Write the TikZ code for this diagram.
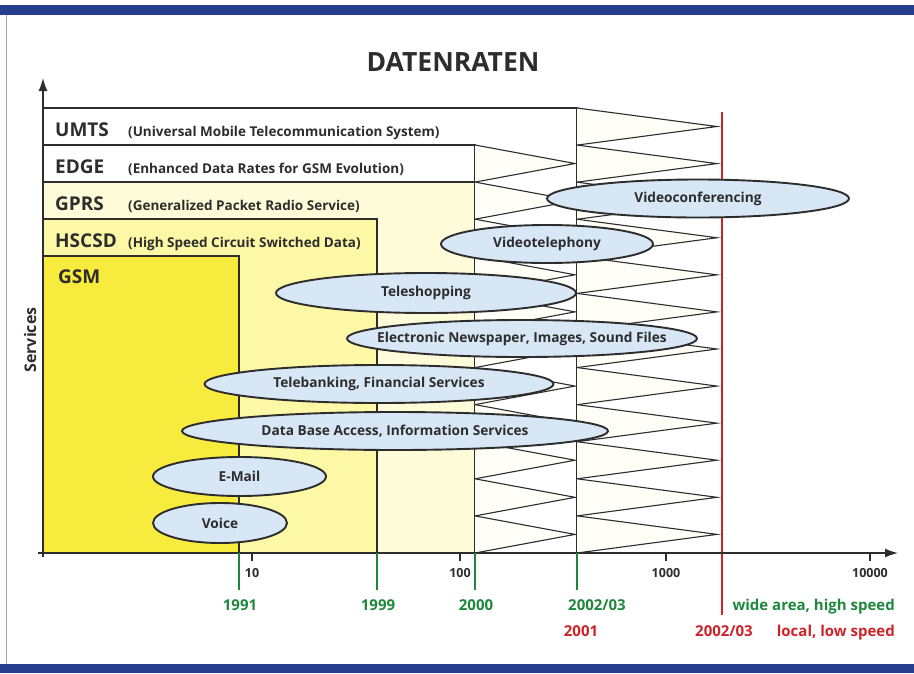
\documentclass[tikz,border=0pt]{standalone}
\usepackage{fontspec}
\setmainfont{Open Sans}
\usepackage{tikz}
\usetikzlibrary{shapes.geometric,arrows.meta}

\definecolor{barblue}{RGB}{38,62,140}
\definecolor{gsmyellow}{RGB}{247,236,62}
\definecolor{hscsdyellow}{RGB}{252,248,165}
\definecolor{gprsyellow}{RGB}{254,252,216}
\definecolor{toothcream}{RGB}{255,254,247}
\definecolor{servblue}{RGB}{216,231,245}
\definecolor{yeargreen}{RGB}{30,135,60}
\definecolor{yearred}{RGB}{205,35,40}
\definecolor{inkgray}{RGB}{45,45,45}

\tikzset{
	band/.style={
		draw=inkgray,
		line width=1.1pt
	},
	tooth/.style={
		draw=inkgray,
		fill=toothcream,
		line width=1.1pt
	},
	service/.style={
		ellipse,
		draw=inkgray,
		fill=servblue,
		line width=1.9pt,
		inner xsep=-80pt,
		inner ysep=0pt,
		text=inkgray,
		font=\fontsize{13.7}{16}\selectfont\bfseries
	},
	axisline/.style={
		-{Latex[length=13pt,width=9pt]},
		draw=inkgray,
		line width=1.4pt
	},
	rowname/.style={
		anchor=base west,
		inner sep=0,
		text=inkgray,
		font=\fontsize{19}{21}\selectfont\bfseries
	},
	rowlong/.style={
		anchor=base west,
		inner sep=0,
		text=inkgray,
		font=\fontsize{13.5}{15}\selectfont\bfseries
	}
}

\begin{document}
\begin{tikzpicture}[x=1pt, y=-1pt]

	\useasboundingbox (0,0) rectangle (914,673);

	%% Frame
	\fill[barblue] (0,5) rectangle (914,15);
	\fill[barblue] (0,664) rectangle (914,673);
	\draw[gray!70, line width=1pt] (6,15) -- (6,664);

	\node[text=inkgray, font=\fontsize{26.5}{29}\selectfont\bfseries] (title) at (453,62) {DATENRATEN};

	%% Technologies
	\draw[band, fill=white] (43,108) rectangle (577,553);
	\draw[band, fill=white] (43,145) rectangle (475,553);
	\draw[band, fill=gprsyellow] (43,182) rectangle (475,553);
	\draw[band, fill=hscsdyellow] (43,219) rectangle (377,553);
	\draw[band, fill=gsmyellow] (43,256) rectangle (239,553);

	%% Zigzags
	\foreach \i in {0,...,10} {
		\draw[tooth] (475,{145+37.09*\i}) -- (575,{163.5+37.09*\i}) -- (475,{182.1+37.09*\i});
	}
	\foreach \i in {0,...,11} {
		\draw[tooth] (577,{108+37.08*\i}) -- (717,{126.5+37.08*\i}) -- (577,{145.1+37.08*\i});
	}

	% Row labels
	\node[rowname] (umts) at (55,136) {UMTS};
	\node[rowlong] (umtslong) at (128,136) {(Universal Mobile Telecommunication System)};
	\node[rowname] (edge) at (55,173) {EDGE};
	\node[rowlong] (edgelong) at (128,173) {(Enhanced Data Rates for GSM Evolution)};
	\node[rowname] (gprs) at (55,210) {GPRS};
	\node[rowlong] (gprslong) at (128,210) {(Generalized Packet Radio Service)};
	\node[rowname] (hscsd) at (55,247) {HSCSD};
	\node[rowlong] (hscsdlong) at (128,247) {(High Speed Circuit Switched Data)};
	\node[rowname] (gsm) at (58,283) {GSM};

	\node[rotate=90, text=inkgray, font=\fontsize{16}{18}\selectfont\bfseries] (services) at (30,340) {Services};

	%% Red line
	\draw[yearred, line width=1.3pt] (722,112) -- (722,615);

	%% Axes
	\draw[axisline] (43,557) -- (43,78);
	\draw[axisline] (38,553) -- (898,553);

	% Column labels
	\foreach \x/\t in {252/10, 460/100, 666/1000, 870/10000} {
		\draw[inkgray, line width=1.2pt] (\x,553) -- (\x,561);
		\node[text=inkgray, font=\fontsize{12.5}{14}\selectfont\bfseries] (tick\t) at (\x,573) {\t};
	}

	% Years
	\foreach \x in {239,377,475,577} {
		\draw[yeargreen, line width=1.2pt] (\x,553) -- (\x,590);
	}
	\begin{scope}[
		year/.style={anchor=base, inner sep=0, font=\fontsize{15}{17}\selectfont\bfseries}
	]
		\node[year, text=yeargreen] (y1991) at (240,610) {1991};
		\node[year, text=yeargreen] (y1999) at (378,610) {1999};
		\node[year, text=yeargreen] (y2000) at (476,610) {2000};
		\node[year, text=yeargreen] (y2002) at (597,610) {2002/03};
		\node[year, text=yeargreen, anchor=base east] (wide) at (895,610) {wide area, high speed};
		\node[year, text=yearred] (y2001) at (581,636) {2001};
		\node[year, text=yearred] (y2002red) at (724,636) {2002/03};
		\node[year, text=yearred, anchor=base east] (local) at (895,636) {local, low speed};
	\end{scope}

	%% Services
	\node[service, minimum width=302, minimum height=38] (videoconf) at (698,198.5) {Videoconferencing};
	\node[service, minimum width=212, minimum height=38] (videotel) at (547,244) {Videotelephony};
	\node[service, minimum width=300, minimum height=40] (teleshop) at (426,293) {Teleshopping};
	\node[service, minimum width=350, minimum height=37] (enews) at (522,338.5) {Electronic Newspaper, Images, Sound Files};
	\node[service, minimum width=349, minimum height=38] (telebank) at (379,384) {Telebanking, Financial Services};
	\node[service, minimum width=426, minimum height=38] (database) at (395,431) {Data Base Access, Information Services};
	\node[service, minimum width=173, minimum height=39] (email) at (239.5,476.5) {E-Mail};
	\node[service, minimum width=134, minimum height=40] (voice) at (220,523) {Voice};

\end{tikzpicture}
\end{document}
